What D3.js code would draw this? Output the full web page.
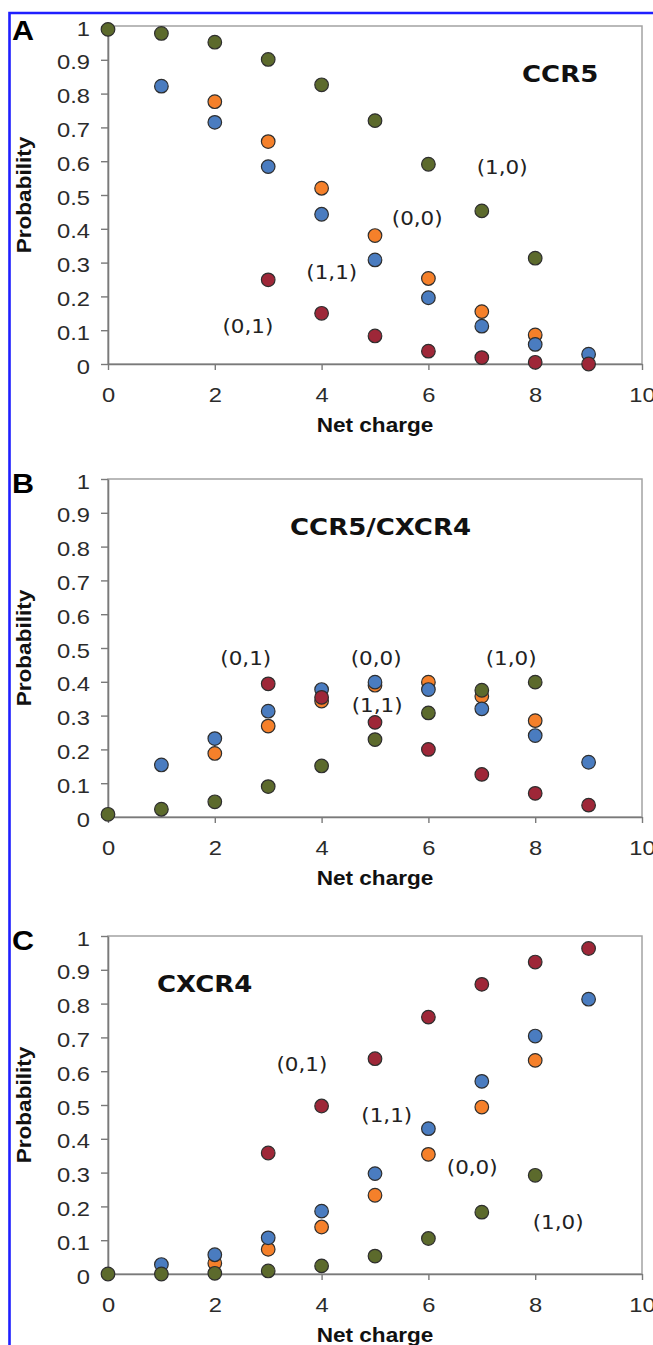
<!DOCTYPE html>
<html>
<head>
<meta charset="utf-8">
<script src="https://cdnjs.cloudflare.com/ajax/libs/d3/7.8.5/d3.min.js"></script>
<style>
  body { margin: 0; background: #fff; }
  svg { display: block; }
</style>
</head>
<body>
<div id="graph"></div>
<script>
var netCharge = [0, 1, 2, 3, 4, 5, 6, 7, 8, 9]
  , xTicks = [0, 2, 4, 6, 8, 10]
  , yTicks = [0, 0.1, 0.2, 0.3, 0.4, 0.5, 0.6, 0.7, 0.8, 0.9, 1]
  , panelLetters = ['A', 'B', 'C']
  , panelTitles = ['CCR5', 'CCR5/CXCR4', 'CXCR4']
  , stateLabels = ['(0,0)', '(1,1)', '(1,0)', '(0,1)']
;

// probability per net charge, null where no point was plotted
// panel A - CCR5
var ccr5_00 = [null, null, 0.776, 0.658, 0.52, 0.38, 0.253, 0.155, 0.086, null]
  , ccr5_11 = [null, 0.822, 0.715, 0.584, 0.443, 0.308, 0.196, 0.112, 0.058, 0.029]
  , ccr5_10 = [0.99, 0.978, 0.952, 0.901, 0.826, 0.72, 0.591, 0.453, 0.313, null]
  , ccr5_01 = [null, null, null, 0.249, 0.15, 0.083, 0.038, 0.019, 0.005, 0.0];

// panel B - CCR5/CXCR4
var dual_00 = [null, null, 0.188, 0.269, 0.343, 0.39, 0.399, 0.357, 0.285, null]
  , dual_11 = [null, 0.154, 0.232, 0.313, 0.377, 0.399, 0.377, 0.32, 0.241, 0.162]
  , dual_10 = [0.008, 0.023, 0.045, 0.09, 0.151, 0.229, 0.308, 0.375, 0.399, null]
  , dual_01 = [null, null, null, 0.394, 0.354, 0.28, 0.2, 0.126, 0.07, 0.035];

// panel C - CXCR4
var cxcr4_00 = [null, null, 0.032, 0.073, 0.139, 0.233, 0.354, 0.494, 0.632, null]
  , cxcr4_11 = [null, 0.028, 0.057, 0.107, 0.186, 0.297, 0.43, 0.57, 0.704, 0.813]
  , cxcr4_10 = [0, 0, 0.002, 0.009, 0.024, 0.053, 0.105, 0.183, 0.292, null]
  , cxcr4_01 = [null, null, null, 0.358, 0.497, 0.637, 0.76, 0.857, 0.923, 0.963];

// where the state labels sit, in net charge / probability units
var labelPosA = [[5.79, 0.432], [4.19, 0.272], [7.38, 0.583], [2.62, 0.112]]
  , labelPosB = [[5.02, 0.469], [5.04, 0.33], [7.55, 0.469], [2.58, 0.469]]
  , labelPosC = [[6.82, 0.316], [5.22, 0.47], [8.43, 0.153], [3.63, 0.62]];

var panels = [
  { series: [ccr5_00, ccr5_11, ccr5_10, ccr5_01], labels: labelPosA, titleX: 522 },
  { series: [dual_00, dual_11, dual_10, dual_01], labels: labelPosB, titleX: 290 },
  { series: [cxcr4_00, cxcr4_11, cxcr4_10, cxcr4_01], labels: labelPosC, titleX: 157 }
];

var W = 653, H = 1345
  , left = 108, right = 642
  , tops = [26, 479, 936]
  , ph = 338
  , colors = ['#f5802a', '#4a7cc0', '#5c6a2c', '#9e2738']
  , stretch = 'scale(1.13,1)';

var svg = d3.select('#graph').append('svg')
  .attr('width', W).attr('height', H);

svg.append('rect').attr('width', W).attr('height', H).attr('fill', '#fff');

// blue frame of the figure
svg.append('path')
  .attr('d', 'M9.5,1345V13H653')
  .attr('fill', 'none').attr('stroke', '#1f1fff').attr('stroke-width', 2.6);

var x = d3.scaleLinear().domain([0, 10]).range([left, right]);

panels.forEach(function (p, i) {
  var top = tops[i]
    , y = d3.scaleLinear().domain([0, 1]).range([top + ph, top])
    , g = svg.append('g');

  // plot area frame
  g.append('rect')
    .attr('x', left).attr('y', top)
    .attr('width', right - left).attr('height', ph)
    .attr('fill', 'none').attr('stroke', '#a3a3a3').attr('stroke-width', 1.5);

  var ya = g.append('g')
    .attr('transform', 'translate(' + left + ',0)')
    .call(d3.axisLeft(y).tickValues(yTicks).tickSize(7).tickSizeOuter(0)
      .tickFormat(function (d) { return (d === 0 || d === 1) ? String(d) : d.toFixed(1); }));

  var xa = g.append('g')
    .attr('transform', 'translate(0,' + (top + ph) + ')')
    .call(d3.axisBottom(x).tickValues(xTicks).tickSize(6).tickSizeOuter(0));

  [ya, xa].forEach(function (a) {
    a.select('.domain').attr('stroke', '#7a7a7a').attr('stroke-width', 1.6);
    a.selectAll('.tick line').attr('stroke', '#7a7a7a').attr('stroke-width', 1.4);
    a.selectAll('text')
      .attr('fill', '#2b2b2b')
      .style('font-family', '"Liberation Sans", Arial, sans-serif')
      .style('font-size', '21px');
  });
  ya.selectAll('text').attr('x', null).attr('dy', null)
    .attr('transform', 'translate(-18,9) ' + stretch);
  xa.selectAll('text').attr('y', null).attr('dy', null)
    .attr('transform', 'translate(0,38) ' + stretch);

  // axis titles
  g.append('text')
    .attr('transform', 'translate(' + ((left + right) / 2) + ',' + (top + ph + 68) + ') ' + stretch)
    .attr('text-anchor', 'middle')
    .style('font', 'bold 20px "Liberation Sans", Arial, sans-serif')
    .attr('fill', '#111')
    .text('Net charge');

  g.append('text')
    .attr('transform', 'translate(31,' + (top + ph / 2) + ') rotate(-90) ' + stretch)
    .attr('text-anchor', 'middle')
    .style('font', 'bold 20px "Liberation Sans", Arial, sans-serif')
    .attr('fill', '#111')
    .text('Probability');

  g.append('text')
    .attr('transform', 'translate(12,' + (top + 14) + ') ' + stretch)
    .style('font', 'bold 27px "Liberation Sans", Arial, sans-serif')
    .attr('fill', '#000')
    .text(panelLetters[i]);

  g.append('text')
    .attr('transform', 'translate(' + p.titleX + ',' + (top + 56) + ') ' + stretch)
    .style('font', 'bold 23px "DejaVu Sans", sans-serif')
    .attr('fill', '#111')
    .text(panelTitles[i]);

  // state labels
  g.selectAll('text.state')
    .data(p.labels)
    .enter().append('text')
      .attr('class', 'state')
      .attr('transform', function (d) {
        return 'translate(' + x(d[0]) + ',' + y(d[1]) + ') ' + stretch;
      })
      .attr('text-anchor', 'middle')
      .attr('dy', '0.36em')
      .style('font', '19px "DejaVu Sans", sans-serif')
      .attr('fill', '#222')
      .text(function (d, j) { return stateLabels[j]; });

  // points, drawn in order orange, blue, green, red
  p.series.forEach(function (vals, s) {
    var pts = netCharge
      .map(function (n, k) { return { n: n, v: vals[k] }; })
      .filter(function (d) { return d.v !== null; });

    g.append('g').selectAll('circle')
      .data(pts)
      .enter().append('circle')
        .attr('cx', function (d) { return x(d.n); })
        .attr('cy', function (d) { return y(d.v); })
        .attr('r', 6.8)
        .attr('fill', colors[s])
        .attr('stroke', '#2e2e2e')
        .attr('stroke-width', 1.2);
  });
});
</script>
</body>
</html>
